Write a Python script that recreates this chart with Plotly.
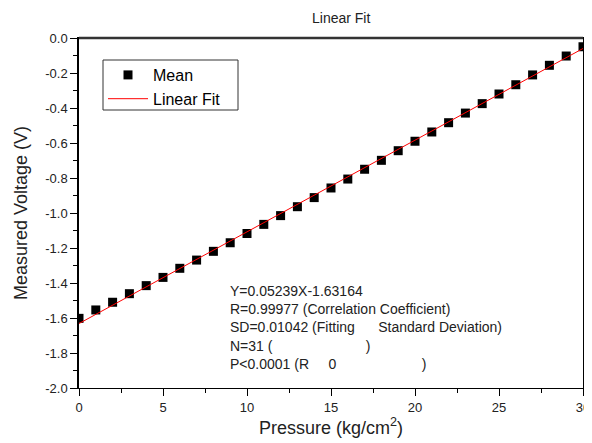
import plotly.graph_objects as go

pressure = list(range(0, 31))
mean_voltage = [-1.602, -1.554, -1.510, -1.461, -1.415, -1.368, -1.316, -1.269, -1.219, -1.170,
                -1.117, -1.065, -1.015, -0.964, -0.912, -0.857, -0.806, -0.750, -0.699, -0.644,
                -0.590, -0.537, -0.484, -0.429, -0.375, -0.320, -0.267, -0.211, -0.156, -0.103,
                -0.050]
fit_x = [0, 30]
fit_y = [-1.63164, -0.05994]

y_tickvals = [0.0, -0.2, -0.4, -0.6, -0.8, -1.0, -1.2, -1.4, -1.6, -1.8, -2.0]
y_ticktext = ["0.0", "-0.2", "-0.4", "-0.6", "-0.8", "-1.0", "-1.2", "-1.4", "-1.6", "-1.8", "-2.0"]
x_tickvals = [0, 5, 10, 15, 20, 25, 30]

NB = "\u00a0"
stats_lines = [
    "Y=0.05239X-1.63164",
    "R=0.99977 (Correlation Coefficient)",
    "SD=0.01042 (Fitting" + NB * 6 + "Standard Deviation)",
    "N=31 (" + NB * 24 + ")",
    "P<0.0001 (R" + NB * 5 + "0" + NB * 22 + ")",
]

FONT = "Liberation Sans, Arial, sans-serif"
TXT = "#222"

# the page body adds an 8 px offset, so the figure is 8 px smaller each way
W, H = 584, 435
L, R, T, B = 71, 9, 30, 55
PW, PH = W - L - R, H - T - B

fig = go.Figure()
fig.add_trace(go.Scatter(
    x=pressure, y=mean_voltage, mode="markers", name="Mean",
    marker=dict(symbol="square", size=9, color="black", line=dict(width=0)),
))
fig.add_trace(go.Scatter(
    x=fit_x, y=fit_y, mode="lines", name="Linear Fit",
    line=dict(color="red", width=1),
))

fig.update_layout(
    width=W, height=H,
    margin=dict(l=L, r=R, t=T, b=B, autoexpand=False),
    paper_bgcolor="white", plot_bgcolor="white",
    font=dict(family=FONT, color=TXT, size=13),
    showlegend=True,
    legend=dict(
        x=24 / PW, y=1 - 20 / PH, xanchor="left", yanchor="top",
        bgcolor="rgba(0,0,0,0)", borderwidth=0,
        font=dict(size=16, family=FONT, color="black"),
        itemwidth=40, tracegroupgap=0,
    ),
    xaxis=dict(
        range=[0, 30], tickvals=x_tickvals, ticks="outside", ticklen=7,
        tickwidth=1, tickcolor="black", showline=True, linecolor="black",
        linewidth=1, mirror=True, showgrid=False, zeroline=False, automargin=False,
        ticklabeloverflow="allow",
        minor=dict(dtick=2.5, ticklen=4, tickcolor="black", ticks="outside", showgrid=False),
        tickfont=dict(size=13, family=FONT, color=TXT),
        title=dict(text="Pressure (kg/cm<sup>2</sup>)", font=dict(size=18, family=FONT, color=TXT), standoff=7),
    ),
    yaxis=dict(
        range=[-2.0, 0.0], tickvals=y_tickvals, ticktext=y_ticktext, ticks="outside",
        ticklen=7, tickwidth=1, tickcolor="black", showline=True, linecolor="black",
        linewidth=1.5, mirror=True, showgrid=False, zeroline=False, automargin=False,
        minor=dict(dtick=0.1, ticklen=4, tickcolor="black", ticks="outside", showgrid=False),
        tickfont=dict(size=13, family=FONT, color=TXT),
        title=dict(text="Measured Voltage (V)", font=dict(size=18, family=FONT, color=TXT), standoff=13),
    ),
)

# legend frame
fig.add_shape(
    type="rect", xref="paper", yref="paper",
    x0=24 / PW, x1=159 / PW, y0=1 - 72 / PH, y1=1 - 22 / PH,
    line=dict(color="#333", width=1), fillcolor="white", layer="below",
)
# heavier top frame line
fig.add_shape(
    type="line", xref="paper", yref="paper", x0=0, x1=1, y0=1, y1=1,
    line=dict(color="#333", width=2.5), layer="above",
)

fig.add_annotation(
    text="Linear Fit", xref="paper", yref="paper", x=0.52, y=1.0, yshift=20,
    xanchor="center", yanchor="middle", showarrow=False,
    font=dict(size=14, family=FONT, color=TXT),
)

fig.add_annotation(
    text="<br>".join(stats_lines), xref="paper", yref="paper",
    x=149 / PW, y=1 - 243 / PH, xanchor="left", yanchor="top",
    align="left", showarrow=False,
    font=dict(size=14, family=FONT, color=TXT),
)

fig.write_html("out.html")
